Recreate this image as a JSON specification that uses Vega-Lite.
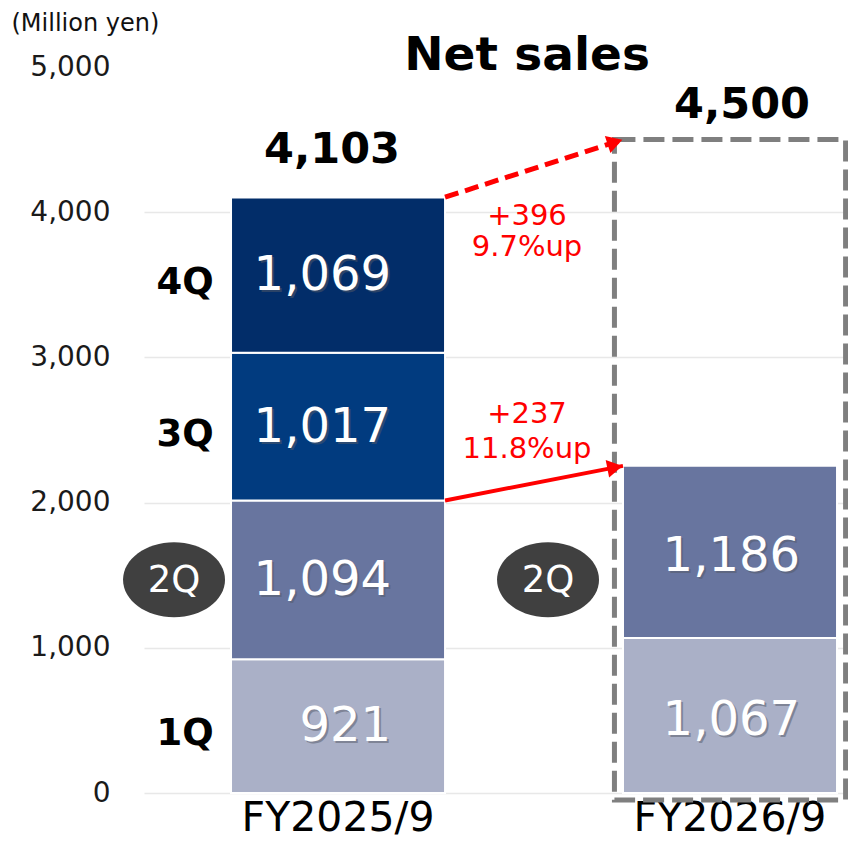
{
  "$schema": "https://vega.github.io/schema/vega-lite/v6.json",
  "autosize": {"type": "none"},
  "width": 704,
  "height": 726,
  "padding": {"left": 144, "top": 67, "right": 0, "bottom": 48},
  "background": "white",
  "config": {
    "font": "DejaVu Sans",
    "view": {"stroke": null},
    "text": {"font": "DejaVu Sans"},
    "axisY": {
      "labelFontSize": 28, "labelColor": "#1a1a1a", "labelPadding": 34, "labelFont": "DejaVu Sans",
      "ticks": false, "domain": false, "labelOverlap": false,
      "titleFont": "DejaVu Sans", "titleFontSize": 23, "titleFontWeight": "normal", "titleColor": "#111111"
    },
    "axisX": {
      "labelFontSize": 41, "labelColor": "#000000", "labelPadding": 5, "labelFont": "DejaVu Sans", "labelLimit": 0,
      "ticks": false, "domain": false, "grid": false, "labelAngle": 0
    }
  },
  "datasets": {
    "sales": [
      {"fy": "FY2025/9", "q": "1Q", "v": 921},
      {"fy": "FY2025/9", "q": "2Q", "v": 1094},
      {"fy": "FY2025/9", "q": "3Q", "v": 1017},
      {"fy": "FY2025/9", "q": "4Q", "v": 1069},
      {"fy": "FY2026/9", "q": "1Q", "v": 1067},
      {"fy": "FY2026/9", "q": "2Q", "v": 1186}
    ],
    "totals": [
      {"fy": "FY2025/9", "total": 4103},
      {"fy": "FY2026/9", "total": 4500}
    ],
    "changes": [
      {"kind": "total", "from": "FY2025/9", "to": "FY2026/9", "v0": 4103, "v1": 4500, "diff": 396, "pct": "9.7%up"},
      {"kind": "h1", "from": "FY2025/9", "to": "FY2026/9", "v0": 2015, "v1": 2253, "diff": 237, "pct": "11.8%up"}
    ]
  },
  "layer": [
    {
      "data": {"name": "sales"},
      "transform": [
        {"stack": "v", "groupby": ["fy"], "sort": [{"field": "q"}], "as": ["y0", "y1"]}
      ],
      "mark": {"type": "bar", "stroke": "white", "strokeWidth": 2},
      "encoding": {
        "x": {
          "field": "fy", "type": "nominal",
          "scale": {"type": "band", "domain": ["FY2025/9", "FY2026/9"], "paddingInner": 0.454, "paddingOuter": 0.125, "align": 0.888},
          "axis": {"title": null, "labelAngle": 0, "labelFontSize": 41, "labelColor": "#000000", "labelPadding": 5, "labelLimit": 0, "ticks": false, "domain": false, "grid": false}
        },
        "y": {
          "field": "y1", "type": "quantitative",
          "scale": {"domain": [0, 5000], "nice": false, "zero": true},
          "axis": {
            "title": "(Million yen)", "titleAngle": 0, "titleAlign": "left", "titleBaseline": "middle",
            "titleX": -133, "titleY": -44, "titleFontSize": 24, "titleFontWeight": "normal", "titleColor": "#111111",
            "values": [0, 1000, 2000, 3000, 4000, 5000], "format": ",d",
            "labelFontSize": 28, "labelColor": "#1a1a1a", "labelPadding": 34, "labelOverlap": false,
            "ticks": false, "domain": false,
            "grid": true, "gridWidth": 1.5,
            "gridColor": {"condition": {"test": "datum.value == 5000", "value": "transparent"}, "value": "#e8e8e8"}
          }
        },
        "y2": {"field": "y0"},
        "color": {
          "field": "q", "type": "nominal", "legend": null,
          "scale": {"domain": ["1Q", "2Q", "3Q", "4Q"], "range": ["#aab0c7", "#68759f", "#013b7f", "#022d69"]}
        }
      }
    },
    {
      "data": {"name": "totals"},
      "transform": [{"filter": "datum.fy == 'FY2026/9'"}, {"calculate": "-48", "as": "base"}],
      "mark": {"type": "bar", "width": {"band": 1.08}, "fill": "transparent", "stroke": "#7f7f7f", "strokeWidth": 5, "strokeDash": [21, 8]},
      "encoding": {
        "x": {"field": "fy", "type": "nominal"},
        "y": {"field": "total", "type": "quantitative"},
        "y2": {"field": "base"}
      }
    },
    {
      "data": {"name": "changes"},
      "transform": [{"filter": "datum.kind == 'total'"}],
      "mark": {"type": "rule", "color": "#ff0000", "strokeWidth": 5, "strokeDash": [14, 7]},
      "encoding": {
        "x": {"field": "from", "type": "nominal", "bandPosition": 1},
        "x2": {"field": "to", "bandPosition": 0},
        "y": {"field": "v0", "type": "quantitative"},
        "y2": {"field": "v1"}
      }
    },
    {
      "data": {"name": "changes"},
      "transform": [{"filter": "datum.kind == 'h1'"}],
      "mark": {"type": "rule", "color": "#ff0000", "strokeWidth": 4},
      "encoding": {
        "x": {"field": "from", "type": "nominal", "bandPosition": 1},
        "x2": {"field": "to", "bandPosition": 0},
        "y": {"field": "v0", "type": "quantitative"},
        "y2": {"field": "v1"}
      }
    },
    {
      "data": {"name": "changes"},
      "transform": [{"filter": "datum.kind == 'total'"}],
      "mark": {"type": "point", "shape": "triangle-right", "filled": true, "color": "#ff0000", "opacity": 1, "size": 320, "angle": 342, "xOffset": -8, "yOffset": 2.6},
      "encoding": {
        "x": {"field": "to", "type": "nominal", "bandPosition": 0},
        "y": {"field": "v1", "type": "quantitative"}
      }
    },
    {
      "data": {"name": "changes"},
      "transform": [{"filter": "datum.kind == 'h1'"}],
      "mark": {"type": "point", "shape": "triangle-right", "filled": true, "color": "#ff0000", "opacity": 1, "size": 320, "angle": 349, "xOffset": -8, "yOffset": 1.5},
      "encoding": {
        "x": {"field": "to", "type": "nominal", "bandPosition": 0},
        "y": {"field": "v1", "type": "quantitative"}
      }
    },
    {
      "data": {"name": "changes"},
      "transform": [
        {"filter": "datum.kind == 'total'"},
        {"calculate": "['+' + datum.diff, datum.pct]", "as": "lbl"}
      ],
      "mark": {"type": "text", "color": "#ff0000", "fontSize": 29, "align": "center", "baseline": "middle", "lineHeight": 31, "dx": -96, "dy": 19},
      "encoding": {
        "x": {"field": "to", "type": "nominal", "bandPosition": 0},
        "y": {"field": "v0", "type": "quantitative"},
        "text": {"field": "lbl"}
      }
    },
    {
      "data": {"name": "changes"},
      "transform": [
        {"filter": "datum.kind == 'h1'"},
        {"calculate": "['+' + datum.diff, datum.pct]", "as": "lbl"}
      ],
      "mark": {"type": "text", "color": "#ff0000", "fontSize": 29, "align": "center", "baseline": "middle", "lineHeight": 35, "dx": -96, "dy": -86},
      "encoding": {
        "x": {"field": "to", "type": "nominal", "bandPosition": 0},
        "y": {"field": "v0", "type": "quantitative"},
        "text": {"field": "lbl"}
      }
    },
    {
      "data": {"name": "sales"},
      "transform": [
        {"stack": "v", "groupby": ["fy"], "sort": [{"field": "q"}], "as": ["y0", "y1"]},
        {"calculate": "(datum.y0 + datum.y1) / 2", "as": "ym"},
        {"filter": "datum.fy == 'FY2025/9'"}
      ],
      "mark": {"type": "text", "color": "#555a66", "opacity": 0.5, "fontSize": 48, "align": "right", "baseline": "middle", "dx": 55, "dy": 3},
      "encoding": {
        "x": {"field": "fy", "type": "nominal"},
        "y": {"field": "ym", "type": "quantitative"},
        "text": {"field": "v", "format": ","}
      }
    },
    {
      "data": {"name": "sales"},
      "transform": [
        {"stack": "v", "groupby": ["fy"], "sort": [{"field": "q"}], "as": ["y0", "y1"]},
        {"calculate": "(datum.y0 + datum.y1) / 2", "as": "ym"},
        {"filter": "datum.fy == 'FY2025/9'"}
      ],
      "mark": {"type": "text", "color": "#ffffff", "fontSize": 48, "align": "right", "baseline": "middle", "dx": 53, "dy": 1},
      "encoding": {
        "x": {"field": "fy", "type": "nominal"},
        "y": {"field": "ym", "type": "quantitative"},
        "text": {"field": "v", "format": ","}
      }
    },
    {
      "data": {"name": "sales"},
      "transform": [
        {"stack": "v", "groupby": ["fy"], "sort": [{"field": "q"}], "as": ["y0", "y1"]},
        {"calculate": "(datum.y0 + datum.y1) / 2", "as": "ym"},
        {"filter": "datum.fy == 'FY2026/9'"}
      ],
      "mark": {"type": "text", "color": "#555a66", "opacity": 0.5, "fontSize": 48, "align": "right", "baseline": "middle", "dx": 72, "dy": 7},
      "encoding": {
        "x": {"field": "fy", "type": "nominal"},
        "y": {"field": "ym", "type": "quantitative"},
        "text": {"field": "v", "format": ","}
      }
    },
    {
      "data": {"name": "sales"},
      "transform": [
        {"stack": "v", "groupby": ["fy"], "sort": [{"field": "q"}], "as": ["y0", "y1"]},
        {"calculate": "(datum.y0 + datum.y1) / 2", "as": "ym"},
        {"filter": "datum.fy == 'FY2026/9'"}
      ],
      "mark": {"type": "text", "color": "#ffffff", "fontSize": 48, "align": "right", "baseline": "middle", "dx": 70, "dy": 5},
      "encoding": {
        "x": {"field": "fy", "type": "nominal"},
        "y": {"field": "ym", "type": "quantitative"},
        "text": {"field": "v", "format": ","}
      }
    },
    {
      "data": {"name": "totals"},
      "transform": [{"filter": "datum.fy == 'FY2025/9'"}],
      "mark": {"type": "text", "color": "#000000", "fontSize": 43, "fontWeight": "bold", "align": "center", "baseline": "alphabetic", "dx": -6, "dy": -34},
      "encoding": {
        "x": {"field": "fy", "type": "nominal"},
        "y": {"field": "total", "type": "quantitative"},
        "text": {"field": "total", "format": ","}
      }
    },
    {
      "data": {"name": "totals"},
      "transform": [{"filter": "datum.fy == 'FY2026/9'"}],
      "mark": {"type": "text", "color": "#000000", "fontSize": 43, "fontWeight": "bold", "align": "center", "baseline": "alphabetic", "dx": 12, "dy": -22},
      "encoding": {
        "x": {"field": "fy", "type": "nominal"},
        "y": {"field": "total", "type": "quantitative"},
        "text": {"field": "total", "format": ","}
      }
    },
    {
      "data": {"name": "sales"},
      "transform": [
        {"stack": "v", "groupby": ["fy"], "sort": [{"field": "q"}], "as": ["y0", "y1"]},
        {"calculate": "(datum.y0 + datum.y1) / 2", "as": "ym"},
        {"filter": "datum.fy == 'FY2025/9' && datum.q != '2Q'"}
      ],
      "mark": {"type": "text", "color": "#000000", "fontSize": 37, "fontWeight": "bold", "align": "center", "baseline": "middle", "dx": -153, "dy": 8},
      "encoding": {
        "x": {"field": "fy", "type": "nominal"},
        "y": {"field": "ym", "type": "quantitative"},
        "text": {"field": "q"}
      }
    },
    {
      "data": {"name": "sales"},
      "transform": [
        {"stack": "v", "groupby": ["fy"], "sort": [{"field": "q"}], "as": ["y0", "y1"]},
        {"calculate": "(datum.y0 + datum.y1) / 2", "as": "ym"},
        {"filter": "datum.fy == 'FY2025/9' && datum.q == '2Q'"}
      ],
      "mark": {"type": "point", "shape": "M-1,0A1,0.735,0,1,0,1,0A1,0.735,0,1,0,-1,0Z", "filled": true, "color": "#404040", "opacity": 1, "size": 10404, "xOffset": -164},
      "encoding": {
        "x": {"field": "fy", "type": "nominal"},
        "y": {"field": "ym", "type": "quantitative"}
      }
    },
    {
      "data": {"name": "sales"},
      "transform": [
        {"stack": "v", "groupby": ["fy"], "sort": [{"field": "q"}], "as": ["y0", "y1"]},
        {"calculate": "(datum.y0 + datum.y1) / 2", "as": "ym"},
        {"filter": "datum.fy == 'FY2025/9' && datum.q == '2Q'"}
      ],
      "mark": {"type": "point", "shape": "M-1,0A1,0.735,0,1,0,1,0A1,0.735,0,1,0,-1,0Z", "filled": true, "color": "#404040", "opacity": 1, "size": 10404, "xOffset": 210},
      "encoding": {
        "x": {"field": "fy", "type": "nominal"},
        "y": {"field": "ym", "type": "quantitative"}
      }
    },
    {
      "data": {"name": "sales"},
      "transform": [
        {"stack": "v", "groupby": ["fy"], "sort": [{"field": "q"}], "as": ["y0", "y1"]},
        {"calculate": "(datum.y0 + datum.y1) / 2", "as": "ym"},
        {"filter": "datum.fy == 'FY2025/9' && datum.q == '2Q'"}
      ],
      "mark": {"type": "text", "color": "#ffffff", "fontSize": 37, "align": "center", "baseline": "middle", "dx": -164, "dy": 1},
      "encoding": {
        "x": {"field": "fy", "type": "nominal"},
        "y": {"field": "ym", "type": "quantitative"},
        "text": {"field": "q"}
      }
    },
    {
      "data": {"name": "sales"},
      "transform": [
        {"stack": "v", "groupby": ["fy"], "sort": [{"field": "q"}], "as": ["y0", "y1"]},
        {"calculate": "(datum.y0 + datum.y1) / 2", "as": "ym"},
        {"filter": "datum.fy == 'FY2025/9' && datum.q == '2Q'"}
      ],
      "mark": {"type": "text", "color": "#ffffff", "fontSize": 37, "align": "center", "baseline": "middle", "dx": 210, "dy": 1},
      "encoding": {
        "x": {"field": "fy", "type": "nominal"},
        "y": {"field": "ym", "type": "quantitative"},
        "text": {"field": "q"}
      }
    },
    {
      "data": {"values": [{"t": "Net sales", "fy": "FY2026/9", "top": 5000}]},
      "mark": {"type": "text", "color": "#000000", "fontSize": 47, "fontWeight": "bold", "align": "center", "baseline": "alphabetic", "dx": -203, "dy": 3},
      "encoding": {
        "x": {"field": "fy", "type": "nominal"},
        "y": {"field": "top", "type": "quantitative"},
        "text": {"field": "t"}
      }
    }
  ]
}
